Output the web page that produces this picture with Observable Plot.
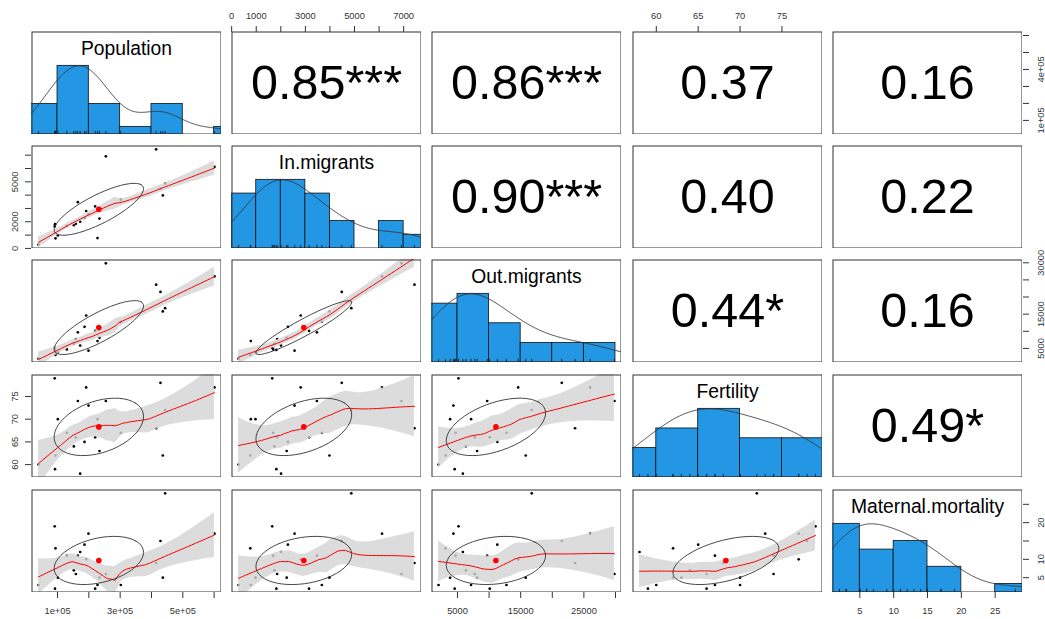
<!DOCTYPE html>
<html><head><meta charset="utf-8">
<script src="https://cdn.jsdelivr.net/npm/d3@7"></script>
<script src="https://cdn.jsdelivr.net/npm/@observablehq/plot@0.6"></script>
<style>
html,body{margin:0;padding:0;background:#fff;}
#fig{position:relative;width:1045px;height:619px;overflow:hidden;background:#fff;}
#fig svg{position:absolute;}
</style></head><body><div id="fig"></div>
<script>
// ---- data (23 observations) ----
const variables = ["Population", "In.migrants", "Out.migrants", "Fertility", "Maternal.mortality"];
const population = [39400, 91000, 93500, 92000, 101000, 129800, 152100, 158500, 164900, 172300, 186200, 191500, 198900, 220200, 227700, 234000, 254300, 302000, 414900, 428700, 436200, 443600, 601100];
const inMigrants = [280, 1650, 760, 1820, 970, 1690, 1740, 1850, 3470, 2010, 2290, 2810, 2560, 3150, 780, 2240, 6910, 3670, 7440, 4480, 3980, 4870, 6120];
const outMigrants = [2000, 5160, 3100, 4550, 3830, 4700, 6330, 7750, 9700, 5850, 11300, 14600, 4350, 10100, 7150, 8100, 29840, 12750, 23600, 21500, 15800, 16750, 26000];
const fertility = [60, 79, 62, 59, 70, 67, 64, 66, 74, 58, 65, 77, 73, 66, 70, 63, 74, 67, 68, 78, 62, 72, 77];
const maternalMortality = [3, 19, 13, 2, 5, 11, 7, 6, 11, 12, 14, 10, 17, 2, 3, 5, 6, 3, 9, 15, 5, 28, 17];

// correlation labels, upper triangle row by row
const correlationLabels = ["0.85***", "0.86***", "0.37", "0.16", "0.90***", "0.40", "0.22", "0.44*", "0.16", "0.49*"];

// tick values and their texts
const popTicks = [100000, 200000, 300000, 400000, 500000, 600000];
const popTickText = ["1e+05", "2e+05", "3e+05", "4e+05", "5e+05", "6e+05"];
const inTicks = [0, 1000, 2000, 3000, 4000, 5000, 6000, 7000];
const inTickText = ["0", "1000", "2000", "3000", "4000", "5000", "6000", "7000"];
const outTicks = [5000, 10000, 15000, 20000, 25000, 30000];
const outTickText = ["5000", "10000", "15000", "20000", "25000", "30000"];
const fertTicks = [60, 65, 70, 75];
const fertTickText = ["60", "65", "70", "75"];
const matTicks = [5, 10, 15, 20, 25];
const matTickText = ["5", "10", "15", "20", "25"];

// which labels are printed on each outer axis
const topInLabels = ["0", "1000", "3000", "5000", "7000"];
const topFertLabels = ["60", "65", "70", "75"];
const bottomPopLabels = ["1e+05", "3e+05", "5e+05"];
const bottomOutLabels = ["5000", "15000", "25000"];
const bottomMatLabels = ["5", "10", "15", "20", "25"];
const leftInLabels = ["0", "2000", "5000"];
const leftFertLabels = ["60", "65", "70", "75"];
const rightPopLabels = ["1e+05", "4e+05"];
const rightOutLabels = ["5000", "15000", "30000"];
const rightMatLabels = ["5", "10", "20"];

// ---- layout / style ----
const FONT = '"Liberation Sans", Arial, Helvetica, sans-serif';
const PANEL_LEFT = [31, 231, 431, 632, 832];
const PANEL_TOP = [31, 145, 259, 374, 489];
const PW = 190, PH = 103;
const HIST_BLUE = "#2396E4";
const FRAME = "#333";
const AX = 44; // room reserved for an outer axis

const series = [population, inMigrants, outMigrants, fertility, maternalMortality];
const domains = series.map(v => {
  const lo = d3.min(v), hi = d3.max(v), e = 0.04 * (hi - lo);
  return [lo - e, hi + e];
});
const fig = document.getElementById("fig");
function place(svg, left, top) {
  svg.style.position = "absolute";
  svg.style.left = left + "px";
  svg.style.top = top + "px";
  fig.appendChild(svg);
}

// ---- statistics helpers ----
function pearson(a, b) {
  const ma = d3.mean(a), mb = d3.mean(b);
  let sab = 0, saa = 0, sbb = 0;
  for (let k = 0; k < a.length; k++) {
    sab += (a[k] - ma) * (b[k] - mb); saa += (a[k] - ma) ** 2; sbb += (b[k] - mb) ** 2;
  }
  return sab / Math.sqrt(saa * sbb);
}
function histBins(v) {
  const k = Math.ceil(Math.log2(v.length) + 1);
  const [lo, hi] = d3.nice(d3.min(v), d3.max(v), k);
  const step = d3.tickIncrement(lo, hi, k);
  const breaks = d3.range(lo, hi + step / 2, step);
  const bins = [];
  for (let b = 0; b < breaks.length - 1; b++) {
    const a = breaks[b], c = breaks[b + 1];
    const cnt = v.filter(x => (b === 0 ? x >= a : x > a) && x <= c).length;
    bins.push({x1: a, x2: c, count: cnt});
  }
  const mx = d3.max(bins, d => d.count);
  bins.forEach(d => d.h = d.count / mx);
  return bins.filter(d => d.count > 0);
}
function densityCurve(v) {
  const sd = d3.deviation(v), iqr = d3.quantile(v, 0.75) - d3.quantile(v, 0.25);
  const bw = 1.06 * Math.min(sd, iqr / 1.34) * Math.pow(v.length, -0.2) * 1.2;
  const lo = d3.min(v) - 3 * bw, hi = d3.max(v) + 3 * bw;
  const pts = d3.range(512).map(k => {
    const x = lo + (hi - lo) * k / 511;
    return {x, y: d3.sum(v, xi => Math.exp(-0.5 * ((x - xi) / bw) ** 2))};
  });
  const m = d3.max(pts, p => p.y);
  pts.forEach(p => p.y /= m);
  return pts;
}
function loessBand(xs, ys, span = 0.75, iterations = 4, tval = 2.08) {
  const N = xs.length, q = Math.floor(N * span);
  let rw = new Array(N).fill(1);
  const weightsAt = x0 => {
    const d = xs.map(x => Math.abs(x - x0));
    const h = ([...d].sort((a, b) => a - b)[q - 1] || 1e-9) * 1.000001;
    const w = d.map((di, k) => { const u = di / h; return u < 1 ? Math.pow(1 - u * u * u, 3) * rw[k] : 0; });
    let S0 = 0, S1 = 0, S2 = 0;
    for (let k = 0; k < N; k++) { const dk = xs[k] - x0; S0 += w[k]; S1 += w[k] * dk; S2 += w[k] * dk * dk; }
    const det = S0 * S2 - S1 * S1;
    return w.map((wk, k) => Math.abs(det) > 1e-12 * S0 * S2 ? wk * (S2 - S1 * (xs[k] - x0)) / det : wk / S0);
  };
  let fitted;
  for (let it = 0; it < iterations; it++) {
    fitted = xs.map(x0 => { const l = weightsAt(x0); return d3.sum(l, (lk, k) => lk * ys[k]); });
    if (it < iterations - 1) {
      const res = ys.map((y, k) => y - fitted[k]);
      const s = d3.median(res.map(Math.abs)) || 1e-9;
      rw = res.map(r => { const u = r / (6 * s); return Math.abs(u) < 1 ? (1 - u * u) ** 2 : 0; });
    }
  }
  let trace = 0;
  xs.forEach((x0, k) => { trace += weightsAt(x0)[k]; });
  const res = ys.map((y, k) => y - fitted[k]);
  const sigma = Math.sqrt(d3.sum(res, (r, k) => (r * rw[k]) ** 2) / (N - trace));
  const lo = d3.min(xs), hi = d3.max(xs);
  return d3.range(47).map(k => {
    const x = lo + (hi - lo) * k / 46;
    const l = weightsAt(x);
    const fit = d3.sum(l, (lk, j) => lk * ys[j]);
    const se = sigma * Math.sqrt(d3.sum(l, lk => lk * lk));
    return {x, fit, lo: fit - tval * se, hi: fit + tval * se};
  });
}
function ellipsePoints(mx, my, sx, sy, r) {
  const th = r !== 0 ? Math.sign(r) / Math.SQRT2 : 1 / Math.SQRT2;
  const a = Math.sqrt(1 + r), b = Math.sqrt(1 - r);
  return d3.range(52).map(k => {
    const ang = k * 2 * Math.PI / 51, c = Math.cos(ang), s = Math.sin(ang);
    return {x: (c * a * th - s * b * th) * sx + mx, y: (c * a * th + s * b * th) * sy + my};
  });
}

// ---- panels ----
let corrIndex = 0;
for (let i = 0; i < 5; i++) {
  for (let j = 0; j < 5; j++) {
    const marks = [];
    let ydom = domains[i];
    const xdom = domains[j];
    if (i === j) {
      ydom = [0, 1.5];
      const v = series[i];
      marks.push(Plot.rect(histBins(v), {x1: "x1", x2: "x2", y1: 0, y2: "h", fill: HIST_BLUE, stroke: "#111", strokeWidth: 0.8}));
      marks.push(Plot.line(densityCurve(v), {x: "x", y: "y", stroke: "#333", strokeWidth: 0.9}));
      marks.push(Plot.ruleX(v, {x: d => d, y1: 0, y2: 0.045, stroke: "#111", strokeWidth: 0.8}));
      marks.push(Plot.text([variables[i]], {frameAnchor: "top", dy: 17, lineAnchor: "middle", text: d => d, fontSize: 19.3, fill: "#000"}));
    } else if (i > j) {
      const xs = series[j], ys = series[i];
      const rows = xs.map((x, k) => ({x, y: ys[k]}));
      const band = loessBand(xs, ys);
      const mx = d3.mean(xs), my = d3.mean(ys);
      const r = pearson(xs, ys);
      marks.push(Plot.dot(rows, {x: "x", y: "y", r: 1.35, fill: "#000", stroke: null}));
      marks.push(Plot.areaY(band, {x: "x", y1: "lo", y2: "hi", fill: "#D3D3D3", fillOpacity: 0.8}));
      marks.push(Plot.line(band, {x: "x", y: "fit", stroke: "red", strokeWidth: 1}));
      marks.push(Plot.line(ellipsePoints(mx, my, d3.deviation(xs), d3.deviation(ys), r), {x: "x", y: "y", stroke: "#333", strokeWidth: 0.9}));
      marks.push(Plot.dot([{x: mx, y: my}], {x: "x", y: "y", r: 2.8, fill: "red", stroke: null}));
    } else {
      marks.push(Plot.text([correlationLabels[corrIndex++]], {frameAnchor: "middle", text: d => d, fontSize: 48.5, fill: "#000"}));
    }
    marks.push(Plot.frame({stroke: FRAME, strokeWidth: 1, inset: 0.5}));
    const svg = Plot.plot({
      width: PW, height: PH, margin: 0,
      x: {domain: xdom, axis: null},
      y: {domain: ydom, axis: null},
      style: {background: "white", overflow: "hidden", fontFamily: FONT},
      marks
    });
    place(svg, PANEL_LEFT[j], PANEL_TOP[i]);
  }
}

// ---- outer axes ----
function fmtMap(ticks, texts, shown) {
  const m = new Map(ticks.map((t, k) => [t, shown.includes(texts[k]) ? texts[k] : ""]));
  return d => m.get(d);
}
const AXIS_STYLE = {background: "transparent", overflow: "visible", fontFamily: FONT, color: "#333"};
const TICK_FONT = 9.3;
function axisX(side, col, row, dom, ticks, texts, shown) {
  const top = side === "top";
  const svg = Plot.plot({
    width: PW + 40, height: AX + 1,
    marginLeft: 20, marginRight: 20,
    marginTop: top ? AX : 1, marginBottom: top ? 1 : AX,
    x: {domain: dom},
    style: AXIS_STYLE,
    marks: [Plot.axisX(ticks, {anchor: side, tickSize: 6, tickPadding: top ? 7 : 9, fontSize: TICK_FONT, tickFormat: fmtMap(ticks, texts, shown), label: null})]
  });
  place(svg, PANEL_LEFT[col] - 20, top ? PANEL_TOP[row] - AX : PANEL_TOP[row] + PH - 1);
}
function axisY(side, col, row, dom, ticks, texts, shown) {
  const left = side === "left";
  const svg = Plot.plot({
    width: AX + 1, height: PH + 40,
    marginTop: 20, marginBottom: 20,
    marginLeft: left ? AX : 1, marginRight: left ? 1 : AX,
    y: {domain: dom},
    style: AXIS_STYLE,
    marks: [Plot.axisY(ticks, {anchor: side, tickSize: 6, tickPadding: left ? 7.5 : 8.5, tickRotate: -90, lineAnchor: left ? "bottom" : "top", fontSize: TICK_FONT, tickFormat: fmtMap(ticks, texts, shown), label: null})]
  });
  place(svg, left ? PANEL_LEFT[col] - AX : PANEL_LEFT[col] + PW - 1, PANEL_TOP[row] - 20);
}
axisX("top", 1, 0, domains[1], inTicks, inTickText, topInLabels);
axisX("top", 3, 0, domains[3], fertTicks, fertTickText, topFertLabels);
axisX("bottom", 0, 4, domains[0], popTicks, popTickText, bottomPopLabels);
axisX("bottom", 2, 4, domains[2], outTicks, outTickText, bottomOutLabels);
axisX("bottom", 4, 4, domains[4], matTicks, matTickText, bottomMatLabels);
axisY("left", 0, 1, domains[1], inTicks, inTickText, leftInLabels);
axisY("left", 0, 3, domains[3], fertTicks, fertTickText, leftFertLabels);
axisY("right", 4, 0, domains[0], popTicks, popTickText, rightPopLabels);
axisY("right", 4, 2, domains[2], outTicks, outTickText, rightOutLabels);
axisY("right", 4, 4, domains[4], matTicks, matTickText, rightMatLabels);
</script></body></html>
